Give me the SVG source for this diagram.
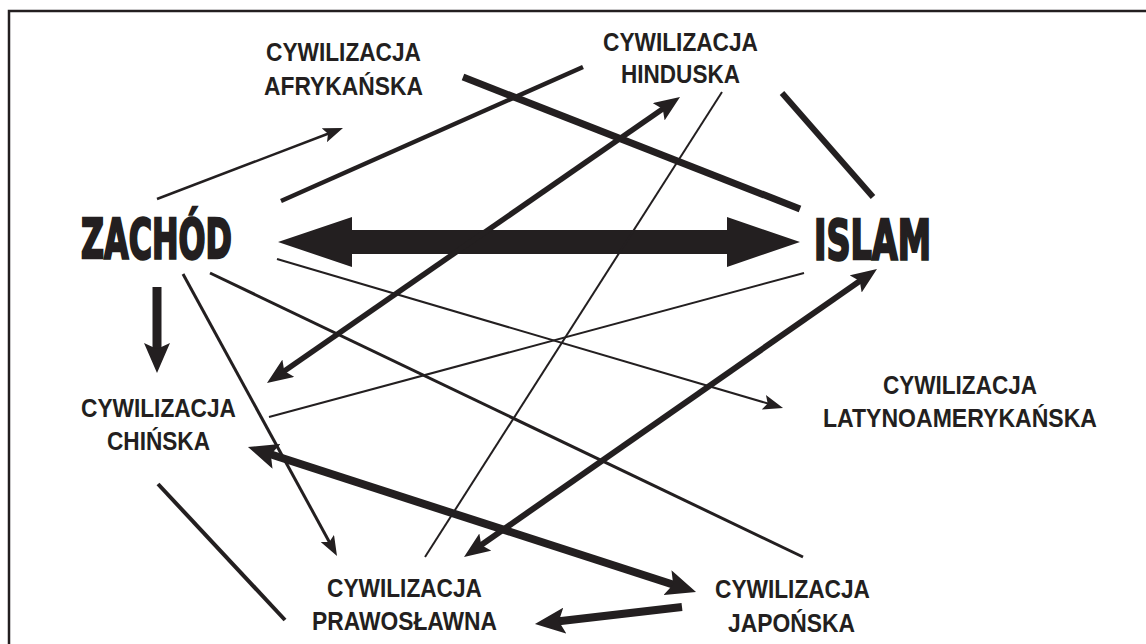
<svg xmlns="http://www.w3.org/2000/svg" width="1146" height="644" viewBox="0 0 1146 644">
  <style>
    .frame { fill: none; stroke: #231f20; stroke-width: 2.5; }
    .lbl { font-family: "Liberation Sans", Arial, sans-serif; font-weight: bold; font-size: 25px; fill: #231f20; }
    .big { font-family: "DejaVu Sans", "Liberation Sans", sans-serif; font-weight: bold; font-size: 56px; fill: #231f20; stroke: #231f20; stroke-width: 2.6; stroke-linejoin: miter; }
    .ln { fill: none; stroke: #231f20; stroke-linecap: butt; }
    .hd { fill: #231f20; }
  </style>
  <defs>
    <!-- notched arrowheads in user units; refX sits just past the notch -->
    <marker id="ahS" markerUnits="userSpaceOnUse" viewBox="0 0 20 15" markerWidth="20" markerHeight="15" refX="6" refY="7.5" orient="auto-start-reverse">
      <path class="hd" d="M0,0 L20,7.5 L0,15 L4,7.5 z"/>
    </marker>
    <marker id="ahM" markerUnits="userSpaceOnUse" viewBox="0 0 26 21" markerWidth="26" markerHeight="21" refX="7" refY="10.5" orient="auto-start-reverse">
      <path class="hd" d="M0,0 L26,10.5 L0,21 L5,10.5 z"/>
    </marker>
    <marker id="ahL" markerUnits="userSpaceOnUse" viewBox="0 0 30 26" markerWidth="30" markerHeight="26" refX="8" refY="13" orient="auto-start-reverse">
      <path class="hd" d="M0,0 L30,13 L0,26 L6,13 z"/>
    </marker>
  </defs>

  <rect width="1146" height="644" fill="#ffffff"/>
  <rect class="frame" x="9" y="11" width="1160" height="660"/>

  <g id="connectors">
    <!-- Zachód <-> Islam -->
    <polygon class="hd" points="278,242 352,217 352,230 727,230 727,217 800,242 727,267 727,254 352,254 352,267"/>
    <!-- Zachód -> Afrykańska -->
    <line class="ln" x1="157" y1="199" x2="329.9" y2="133" stroke-width="2.5" marker-end="url(#ahS)"/>
    <!-- Zachód - Hinduska -->
    <line class="ln" x1="281" y1="201" x2="583" y2="67" stroke-width="4.5"/>
    <!-- Afrykańska - Islam -->
    <line class="ln" x1="463" y1="77" x2="800" y2="209" stroke-width="7"/>
    <!-- Hinduska - Islam -->
    <line class="ln" x1="782" y1="93" x2="873" y2="197" stroke-width="6"/>
    <!-- Chińska <-> Hinduska -->
    <line class="ln" x1="282.6" y1="372.2" x2="664.4" y2="107.8" stroke-width="5.5" marker-start="url(#ahM)" marker-end="url(#ahM)"/>
    <!-- Hinduska - Prawosławna -->
    <line class="ln" x1="722" y1="92" x2="425" y2="557" stroke-width="2"/>
    <!-- Zachód -> Chińska -->
    <line class="ln" x1="157" y1="287" x2="157" y2="351" stroke-width="9" marker-end="url(#ahL)"/>
    <!-- Zachód -> Prawosławna -->
    <line class="ln" x1="183" y1="274" x2="330.3" y2="543.7" stroke-width="3" marker-end="url(#ahS)"/>
    <!-- Zachód - Japońska -->
    <line class="ln" x1="210" y1="273" x2="803" y2="557" stroke-width="3"/>
    <!-- Zachód -> Latynoamerykańska -->
    <line class="ln" x1="277" y1="259" x2="769.6" y2="404" stroke-width="2" marker-end="url(#ahS)"/>
    <!-- Chińska - Islam -->
    <line class="ln" x1="269" y1="417" x2="804" y2="273" stroke-width="2"/>
    <!-- Prawosławna <-> Islam -->
    <line class="ln" x1="479.6" y1="546.1" x2="861.4" y2="279.9" stroke-width="6" marker-start="url(#ahM)" marker-end="url(#ahM)"/>
    <!-- Chińska <-> Japońska -->
    <line class="ln" x1="268.9" y1="453.8" x2="675.1" y2="585.2" stroke-width="8" marker-start="url(#ahL)" marker-end="url(#ahL)"/>
    <!-- Japońska -> Prawosławna -->
    <line class="ln" x1="682" y1="607" x2="556.8" y2="621.5" stroke-width="8" marker-end="url(#ahL)"/>
    <!-- Chińska - Prawosławna -->
    <line class="ln" x1="158" y1="484" x2="285" y2="620" stroke-width="4"/>
  </g>

  <g id="zachod">
    <text class="big" x="81" y="258" textLength="151" lengthAdjust="spacingAndGlyphs">ZACHÓD</text>
  </g>
  <g id="islam">
    <text class="big" x="814" y="259" textLength="117" lengthAdjust="spacingAndGlyphs">ISLAM</text>
  </g>
  <g id="afrykanska">
    <text class="lbl" x="266" y="61" textLength="155" lengthAdjust="spacingAndGlyphs">CYWILIZACJA</text>
    <text class="lbl" x="264" y="95" textLength="159" lengthAdjust="spacingAndGlyphs">AFRYKAŃSKA</text>
  </g>
  <g id="hinduska">
    <text class="lbl" x="603" y="51" textLength="155" lengthAdjust="spacingAndGlyphs">CYWILIZACJA</text>
    <text class="lbl" x="621" y="83" textLength="119" lengthAdjust="spacingAndGlyphs">HINDUSKA</text>
  </g>
  <g id="chinska">
    <text class="lbl" x="81" y="417" textLength="155" lengthAdjust="spacingAndGlyphs">CYWILIZACJA</text>
    <text class="lbl" x="107" y="450" textLength="103" lengthAdjust="spacingAndGlyphs">CHIŃSKA</text>
  </g>
  <g id="prawoslawna">
    <text class="lbl" x="327" y="597" textLength="155" lengthAdjust="spacingAndGlyphs">CYWILIZACJA</text>
    <text class="lbl" x="312" y="630" textLength="185" lengthAdjust="spacingAndGlyphs">PRAWOSŁAWNA</text>
  </g>
  <g id="japonska">
    <text class="lbl" x="715" y="598" textLength="155" lengthAdjust="spacingAndGlyphs">CYWILIZACJA</text>
    <text class="lbl" x="728" y="632" textLength="127" lengthAdjust="spacingAndGlyphs">JAPOŃSKA</text>
  </g>
  <g id="latynoamerykanska">
    <text class="lbl" x="883" y="394" textLength="154" lengthAdjust="spacingAndGlyphs">CYWILIZACJA</text>
    <text class="lbl" x="823" y="427" textLength="274" lengthAdjust="spacingAndGlyphs">LATYNOAMERYKAŃSKA</text>
  </g>
</svg>
